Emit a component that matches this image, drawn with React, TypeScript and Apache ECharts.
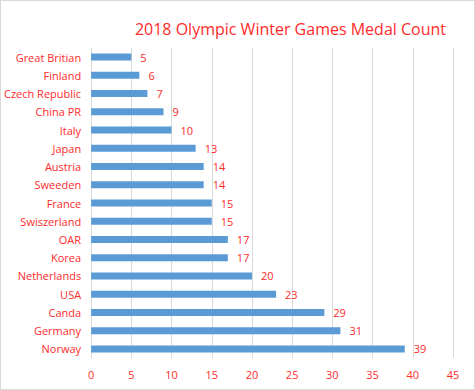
import React, { useEffect, useRef } from "react";
import * as echarts from "echarts";

const countries = [
  "Great Britian", "Finland", "Czech Republic", "China PR", "Italy", "Japan",
  "Austria", "Sweeden", "France", "Swiszerland", "OAR", "Korea", "Netherlands",
  "USA", "Canda", "Germany", "Norway",
];
const medals = [5, 6, 7, 9, 10, 13, 14, 14, 15, 15, 17, 17, 20, 23, 29, 31, 39];
const titleText = "2018 Olympic Winter Games Medal Count";

const RED = "#ff2b2b";
const FONT = "'Open Sans', 'Noto Sans', sans-serif";

export default function App() {
  const ref = useRef<HTMLDivElement>(null);
  useEffect(() => {
    if (!ref.current) return;
    const chart = echarts.init(ref.current, null, { renderer: "svg" });
    chart.setOption({
      animation: false,
      backgroundColor: "#ffffff",
      title: {
        text: titleText,
        right: 23,
        top: 15,
        textStyle: { color: RED, fontSize: 16, fontWeight: "normal", fontFamily: FONT },
      },
      grid: { left: 85, right: 21, top: 47, bottom: 31, containLabel: false },
      xAxis: {
        type: "value",
        min: 0,
        max: 45,
        interval: 5,
        axisLine: { show: false },
        axisTick: { show: false },
        splitLine: { show: true, lineStyle: { color: "#d9d9d9", width: 1 } },
        axisLabel: { color: RED, fontSize: 11, fontFamily: FONT, margin: 11 },
      },
      yAxis: {
        type: "category",
        data: countries,
        inverse: true,
        axisLine: { show: true, lineStyle: { color: "#d9d9d9" } },
        axisTick: { show: false },
        axisLabel: { color: RED, fontSize: 11, fontFamily: FONT, margin: 10 },
      },
      series: [
        {
          type: "bar",
          data: medals,
          barWidth: 7,
          itemStyle: { color: "#5b9bd5" },
          label: {
            show: true,
            position: "right",
            distance: 9,
            color: RED,
            fontSize: 11,
            fontFamily: FONT,
          },
        },
      ],
    });
    return () => chart.dispose();
  }, []);
  return (
    <div
      style={{
        position: "fixed",
        left: 0,
        top: 0,
        width: 475,
        height: 390,
        boxSizing: "border-box",
        border: "1px solid #d9d9d9",
        background: "#fff",
      }}
    >
      <div ref={ref} style={{ width: 473, height: 388 }} />
    </div>
  );
}
